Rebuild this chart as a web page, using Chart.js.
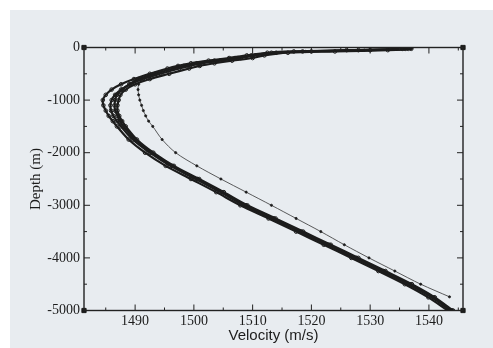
<!DOCTYPE html>
<html><head><meta charset="utf-8">
<script src="https://cdn.jsdelivr.net/npm/chart.js@4/dist/chart.umd.min.js"></script>
<style>html,body{margin:0;padding:0;background:#fff;overflow:hidden}#wrap{position:absolute;left:0;top:0;width:493px;height:348px}</style>
</head><body><div id="wrap"><canvas id="c" width="493" height="348"></canvas></div>
<script>
// Depth grid (m)
const depth = [0,-25,-50,-75,-100,-150,-200,-250,-300,-350,-400,-500,-600,-700,-800,-900,-1000,-1100,-1200,-1300,-1400,-1500,-1750,-2000,-2250,-2500,-2750,-3000,-3250,-3500,-3750,-4000,-4250,-4500,-4750,-5000];
// Sound velocity profiles (m/s) – main cluster
const profileA = [1536.0,1535.5,1526,1517,1512.5,1509,1506,1502.5,1499.5,1497.3,1495.5,1492.5,1489.8,1487.6,1486.0,1485.0,1484.5,1484.6,1485.0,1485.5,1486.2,1486.9,1488.9,1491.7,1495.2,1499.5,1503.8,1507.9,1512.7,1517.4,1522.1,1526.8,1531.4,1535.9,1539.9,1543.2];
const profileB = [1536.8,1536.5,1530,1520,1514,1510.5,1508,1504.5,1501.5,1499.3,1497.5,1494.3,1491.3,1489.2,1487.6,1486.6,1486.0,1485.8,1485.9,1486.3,1486.9,1487.6,1489.6,1492.5,1496.0,1500.3,1504.5,1508.5,1513.3,1518.0,1522.7,1527.4,1532.0,1536.5,1540.5,1543.6];
const profileC = [1537.0,1537.0,1533,1524,1516,1512,1510,1506.5,1503.5,1501,1499.2,1495.8,1492.5,1490.0,1488.4,1487.5,1487.2,1487.0,1487.0,1487.3,1487.8,1488.4,1490.3,1493.1,1496.6,1500.9,1505.1,1509.1,1513.9,1518.6,1523.3,1528.0,1532.6,1537.1,1541.0,1544.1];
const profileD = [1536.5,1536.0,1528,1518.5,1513.2,1509.8,1507,1503.5,1500.5,1498.3,1496.5,1493.4,1490.6,1489.0,1487.8,1486.9,1486.6,1486.5,1486.6,1487.0,1487.4,1488.0,1490.0,1492.8,1496.3,1500.6,1504.8,1508.8,1513.6,1518.3,1523.0,1527.7,1532.3,1536.8,1540.8,1543.9];
// Outer profile (ends near -4740 m)
const profileE = [1536.5,1536.0,1529,1519,1513.5,1510,1507.5,1504,1501,1498.5,1496.5,1493.4,1491.2,1490.6,1490.5,1490.6,1490.8,1491.1,1491.4,1491.8,1492.3,1493.0,1494.6,1496.9,1500.5,1504.6,1508.9,1513.2,1517.4,1521.6,1525.6,1529.8,1534.2,1538.6,1543.5];
const profileEdepth = depth.slice(0, 34).concat([-4740]);

const xTickLabels = [1490,1500,1510,1520,1530,1540];
const yTickLabels = [0,-1000,-2000,-3000,-4000,-5000];
const xMinorTicks = [1485,1495,1505,1515,1525,1535,1545];
const yMinorTicks = [-500,-1500,-2500,-3500,-4500];
const xRange = [1481.3, 1545.8];
const yRange = [-5000, 0];

const toPts = (vel, dep) => vel.map((v, i) => ({x: v, y: dep[i]}));
const ink = '#1c1c1c';

const clusterStyle = {
  borderColor: ink, backgroundColor: 'rgba(0,0,0,0)', borderWidth: 2.2,
  pointRadius: 1.8, pointBorderWidth: 1, pointBorderColor: ink, pointBackgroundColor: 'rgba(0,0,0,0)',
  tension: 0.3, showLine: true
};

const framePlugin = {
  id: 'frame',
  beforeDraw(chart) {
    const ctx = chart.ctx;
    ctx.save();
    ctx.fillStyle = '#ffffff';
    ctx.fillRect(0, 0, chart.width, chart.height);
    ctx.fillStyle = '#e8ecf0';
    ctx.fillRect(10, 10, chart.width - 10, chart.height - 10);
    ctx.restore();
  },
  afterDatasetsDraw(chart) {
    const ctx = chart.ctx, a = chart.chartArea;
    const xs = chart.scales.x, ys = chart.scales.y;
    ctx.save();
    ctx.strokeStyle = '#222';
    ctx.lineWidth = 1.4;
    ctx.strokeRect(a.left, a.top, a.right - a.left, a.bottom - a.top);
    ctx.lineWidth = 1;
    const tick = (vals, len) => {
      vals.forEach(v => {
        const px = xs.getPixelForValue(v);
        ctx.beginPath();
        ctx.moveTo(px, a.bottom); ctx.lineTo(px, a.bottom - len);
        ctx.moveTo(px, a.top); ctx.lineTo(px, a.top + len);
        ctx.stroke();
      });
    };
    const tickY = (vals, len) => {
      vals.forEach(v => {
        const py = ys.getPixelForValue(v);
        ctx.beginPath();
        ctx.moveTo(a.left, py); ctx.lineTo(a.left + len, py);
        ctx.moveTo(a.right, py); ctx.lineTo(a.right - len, py);
        ctx.stroke();
      });
    };
    tick(xTickLabels, 6); tick(xMinorTicks, 3);
    tickY(yTickLabels, 6); tickY(yMinorTicks, 3);
    ctx.restore();
  }
};

new Chart(document.getElementById('c'), {
  type: 'scatter',
  data: {
    datasets: [
      Object.assign({data: toPts(profileA, depth)}, clusterStyle),
      Object.assign({data: toPts(profileB, depth)}, clusterStyle),
      Object.assign({data: toPts(profileC, depth)}, clusterStyle),
      Object.assign({data: toPts(profileD, depth)}, clusterStyle),
      {data: toPts(profileE, profileEdepth), showLine: true, borderColor: '#333', borderWidth: 0.8,
       pointRadius: 1.1, pointBackgroundColor: ink, pointBorderColor: ink, tension: 0.3},
      {data: [{x: xRange[0], y: yRange[1]}, {x: xRange[1], y: yRange[1]}, {x: xRange[1], y: yRange[0]}, {x: xRange[0], y: yRange[0]}],
       showLine: false, pointStyle: 'rect', pointRadius: 3, pointBackgroundColor: ink, pointBorderColor: ink, clip: false}
    ]
  },
  options: {
    responsive: false, animation: false, devicePixelRatio: 1,
    layout: {padding: {left: 0, top: 47.5, right: 30, bottom: 0}},
    plugins: {legend: {display: false}, tooltip: {enabled: false}},
    scales: {
      x: {
        type: 'linear', min: xRange[0], max: xRange[1],
        grid: {display: false, drawTicks: false}, border: {display: false},
        afterBuildTicks: s => { s.ticks = xTickLabels.map(v => ({value: v})); },
        afterFit: s => { s.height = 348 - 310.5; },
        ticks: {color: ink, padding: 2, maxRotation: 0, font: {family: 'Liberation Serif', size: 14},
                callback: v => String(v)},
        title: {display: true, text: 'Velocity (m/s)', color: ink, padding: {top: 0, bottom: 3},
                font: {family: 'Liberation Sans', size: 15}}
      },
      y: {
        type: 'linear', min: yRange[0], max: yRange[1],
        grid: {display: false, drawTicks: false}, border: {display: false},
        afterBuildTicks: s => { s.ticks = yTickLabels.map(v => ({value: v})); },
        afterFit: s => { s.width = 84; },
        ticks: {color: ink, padding: 4, font: {family: 'Liberation Serif', size: 14},
                callback: v => String(v)},
        title: {display: true, text: 'Depth (m)', color: ink, padding: {top: 27, bottom: 0},
                font: {family: 'Liberation Serif', size: 15}}
      }
    }
  },
  plugins: [framePlugin]
});
</script></body></html>
